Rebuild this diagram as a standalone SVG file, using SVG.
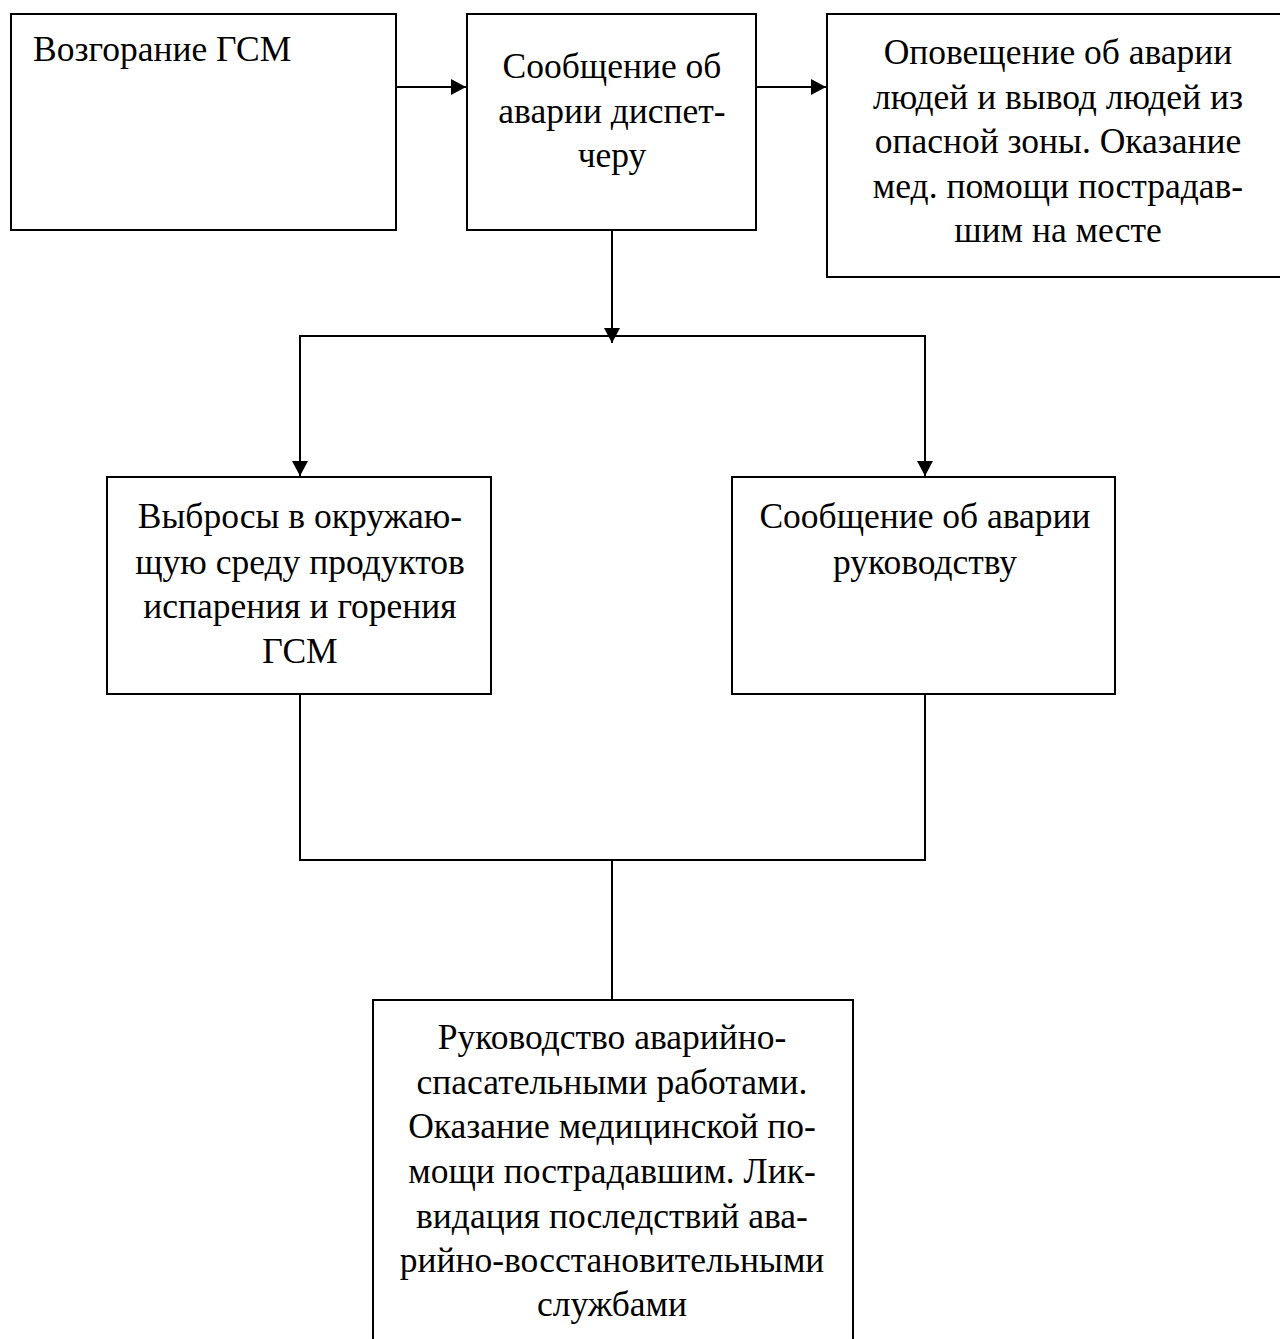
<svg xmlns="http://www.w3.org/2000/svg" width="1280" height="1339" viewBox="0 0 1280 1339">
<style>
.box{fill:#fff;stroke:#000;stroke-width:2}
.ln{fill:none;stroke:#000;stroke-width:2}
text{font-family:"Liberation Serif","DejaVu Serif",serif;font-size:35.5px;fill:#000}
.c{text-anchor:middle}
</style>
<defs>
<marker id="ah" markerWidth="16" markerHeight="16" refX="15" refY="8" orient="auto" markerUnits="userSpaceOnUse">
<path d="M0,0 L15,8 L0,16 Z" fill="#000"/>
</marker>
</defs>
<rect width="1280" height="1339" fill="#fff"/>
<g id="connectors">
<line class="ln" x1="396" y1="87" x2="466" y2="87" marker-end="url(#ah)"/>
<line class="ln" x1="756" y1="87" x2="826" y2="87" marker-end="url(#ah)"/>
<line class="ln" x1="612" y1="230" x2="612" y2="343" marker-end="url(#ah)"/>
<polyline class="ln" points="300,476 300,336 925,336 925,476"/>
<line class="ln" x1="300" y1="336" x2="300" y2="476" marker-end="url(#ah)"/>
<line class="ln" x1="925" y1="336" x2="925" y2="476" marker-end="url(#ah)"/>
<polyline class="ln" points="300,694 300,860 925,860 925,694"/>
<line class="ln" x1="612" y1="860" x2="612" y2="1000"/>
</g>
<g id="n1">
<rect class="box" x="11" y="14" width="385" height="216"/>
<text x="33" y="61">Возгорание ГСМ</text>
</g>
<g id="n2">
<rect class="box" x="467" y="14" width="289" height="216"/>
<text class="c" x="612" y="78">Сообщение об</text>
<text class="c" x="612" y="123">аварии диспет-</text>
<text class="c" x="612" y="167">черу</text>
</g>
<g id="n3">
<rect class="box" x="827" y="14" width="470" height="263"/>
<text class="c" x="1058" y="64">Оповещение об аварии</text>
<text class="c" x="1058" y="109">людей и вывод людей из</text>
<text class="c" x="1058" y="153">опасной зоны. Оказание</text>
<text class="c" x="1058" y="198">мед. помощи пострадав-</text>
<text class="c" x="1058" y="242">шим на месте</text>
</g>
<g id="n4">
<rect class="box" x="107" y="477" width="384" height="217"/>
<text class="c" x="300" y="528">Выбросы в окружаю-</text>
<text class="c" x="300" y="574">щую среду продуктов</text>
<text class="c" x="300" y="618">испарения и горения</text>
<text class="c" x="300" y="663">ГСМ</text>
</g>
<g id="n5">
<rect class="box" x="732" y="477" width="383" height="217"/>
<text class="c" x="925" y="528">Сообщение об аварии</text>
<text class="c" x="925" y="574">руководству</text>
</g>
<g id="n6">
<rect class="box" x="373" y="1000" width="480" height="360"/>
<text class="c" x="612" y="1049">Руководство аварийно-</text>
<text class="c" x="612" y="1094">спасательными работами.</text>
<text class="c" x="612" y="1138">Оказание медицинской по-</text>
<text class="c" x="612" y="1183">мощи пострадавшим. Лик-</text>
<text class="c" x="612" y="1228">видация последствий ава-</text>
<text class="c" x="612" y="1272">рийно-восстановительными</text>
<text class="c" x="612" y="1316">службами</text>
</g>
</svg>
